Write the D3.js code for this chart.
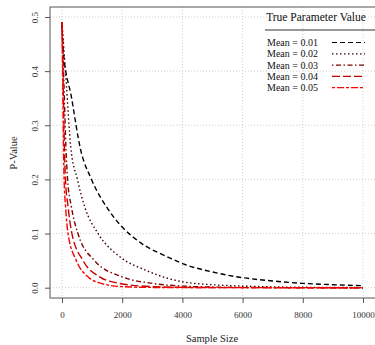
<!DOCTYPE html>
<html>
<head>
<meta charset="utf-8">
<script src="https://cdn.jsdelivr.net/npm/d3@7"></script>
<style>
  body { margin: 0; background: #fff; }
  svg { font-family: "Liberation Serif", "DejaVu Serif", serif; }
</style>
</head>
<body>
<div id="chart"></div>
<script>
// values: [sample size, p-value]
const meanLabels = ["Mean = 0.01", "Mean = 0.02", "Mean = 0.03", "Mean = 0.04", "Mean = 0.05"];
const mean01 = [[0,0.49],[35,0.442],[320,0.35],[610,0.257],[980,0.2],[1530,0.145],[2000,0.112],[2640,0.082],[3500,0.057],[4030,0.044],[5000,0.029],[6000,0.0185],[7000,0.0125],[8000,0.008],[9000,0.0055],[10000,0.0037]];
const mean02 = [[0,0.49],[145,0.375],[290,0.26],[510,0.2],[750,0.15],[1200,0.1],[2000,0.054],[2750,0.033],[3500,0.0175],[4000,0.011],[5000,0.0055],[6000,0.003],[7000,0.0015],[8000,0.0008],[10000,0.0002]];
const mean03 = [[0,0.49],[65,0.375],[130,0.26],[185,0.2],[310,0.15],[530,0.1],[1080,0.05],[2000,0.02],[3000,0.008],[4000,0.003],[5000,0.0012],[6000,0.0005],[8000,0.0001],[10000,0]];
const mean04 = [[0,0.49],[40,0.375],[80,0.26],[115,0.2],[200,0.15],[330,0.1],[700,0.05],[1250,0.02],[1900,0.008],[3000,0.002],[4000,0.0006],[6000,0.0001],[10000,0]];
const mean05 = [[0,0.49],[25,0.375],[50,0.26],[70,0.2],[118,0.15],[200,0.1],[475,0.05],[860,0.02],[1300,0.008],[2000,0.002],[3000,0.0005],[5000,0.0001],[10000,0]];
const xTicks = [0, 2000, 4000, 6000, 8000, 10000];
const yTicks = [0.0, 0.1, 0.2, 0.3, 0.4, 0.5];

const series = [mean01, mean02, mean03, mean04, mean05];
const colors = ["#000000", "#3f0000", "#7f0000", "#bf0000", "#ff0000"];
const dashes = ["5,3", "1.5,2.5", "1.5,2.5,5,2.5", "8,3", "3,2,7,2"];

const width = 375, height = 345;
const box = { left: 50, top: 7, right: 380, bottom: 298 };

const svg = d3.select("#chart").append("svg")
  .attr("width", width)
  .attr("height", height);

const x = d3.scaleLinear().domain([0, 10000]).range([62, 363]);
const y = d3.scaleLinear().domain([0, 0.5]).range([287.7, 17]);

// grid
svg.append("g").selectAll("line").data(xTicks).join("line")
  .attr("x1", d => x(d)).attr("x2", d => x(d))
  .attr("y1", box.top).attr("y2", box.bottom)
  .attr("stroke", "#cfcfcf").attr("stroke-dasharray", "1,2");
svg.append("g").selectAll("line").data(yTicks).join("line")
  .attr("x1", box.left).attr("x2", box.right)
  .attr("y1", d => y(d)).attr("y2", d => y(d))
  .attr("stroke", "#cfcfcf").attr("stroke-dasharray", "1,2");

// curves
const line = d3.line()
  .x(d => x(d[0]))
  .y(d => y(d[1]))
  .curve(d3.curveMonotoneX);

svg.append("g").selectAll("path").data(series).join("path")
  .attr("d", line)
  .attr("fill", "none")
  .attr("stroke", (d, i) => colors[i])
  .attr("stroke-width", 1.4)
  .attr("stroke-dasharray", (d, i) => dashes[i]);

// frame
svg.append("rect")
  .attr("x", box.left).attr("y", box.top)
  .attr("width", box.right - box.left).attr("height", box.bottom - box.top)
  .attr("fill", "none").attr("stroke", "#555").attr("stroke-width", 1);

// x axis
const xAxis = svg.append("g")
  .attr("transform", `translate(0,${box.bottom})`)
  .call(d3.axisBottom(x).tickValues(xTicks).tickFormat(d3.format("d")).tickSize(5).tickPadding(9));
xAxis.select(".domain").remove();
xAxis.selectAll("line").attr("stroke", "#555");
xAxis.selectAll("text").attr("font-size", 9).attr("fill", "#333")
  .attr("font-family", "Liberation Serif, serif");

// y axis
const yAxis = svg.append("g")
  .attr("transform", `translate(${box.left},0)`)
  .call(d3.axisLeft(y).tickValues(yTicks).tickFormat(d3.format(".1f")).tickSize(5));
yAxis.select(".domain").remove();
yAxis.selectAll("line").attr("stroke", "#555");
yAxis.selectAll("text")
  .attr("font-size", 9).attr("fill", "#333")
  .attr("font-family", "Liberation Serif, serif")
  .attr("text-anchor", "middle")
  .attr("x", 0).attr("dy", 0)
  .attr("transform", "translate(-12,0) rotate(-90)");

// axis titles
svg.append("text")
  .attr("x", 212).attr("y", 342)
  .attr("text-anchor", "middle").attr("font-size", 10.5).attr("fill", "#222")
  .text("Sample Size");
svg.append("text")
  .attr("transform", "translate(17,153) rotate(-90)")
  .attr("text-anchor", "middle").attr("font-size", 10.5).attr("fill", "#222")
  .text("P-Value");

// legend
const legend = svg.append("g");
legend.append("text")
  .attr("x", 316).attr("y", 21)
  .attr("text-anchor", "middle").attr("font-size", 11.5).attr("fill", "#111")
  .text("True Parameter Value");
legend.append("line")
  .attr("x1", 265).attr("x2", 375).attr("y1", 30).attr("y2", 30)
  .attr("stroke", "#333").attr("stroke-width", 1);

const rowY = i => 42.5 + i * 11.3;
legend.selectAll("text.entry").data(meanLabels).join("text")
  .attr("class", "entry")
  .attr("x", 267).attr("y", (d, i) => rowY(i) + 3.5)
  .attr("font-size", 10).attr("fill", "#111")
  .text(d => d);
legend.selectAll("line.key").data(meanLabels).join("line")
  .attr("class", "key")
  .attr("x1", 332).attr("x2", 365)
  .attr("y1", (d, i) => rowY(i)).attr("y2", (d, i) => rowY(i))
  .attr("stroke", (d, i) => colors[i])
  .attr("stroke-width", 1.2)
  .attr("stroke-dasharray", (d, i) => dashes[i]);
</script>
</body>
</html>
